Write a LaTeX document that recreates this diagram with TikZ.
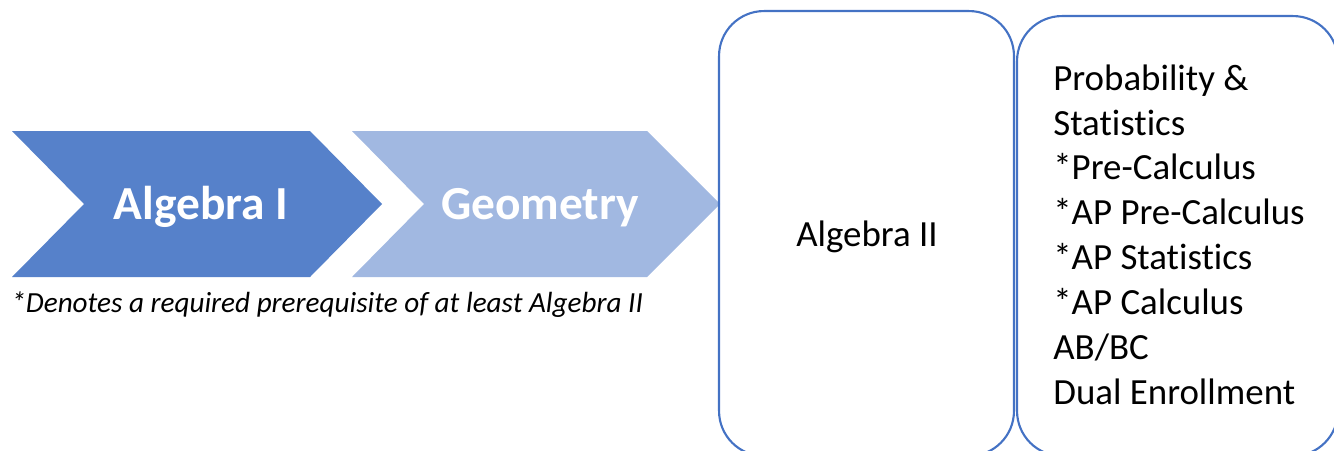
\documentclass[tikz,border=0pt]{standalone}
\usepackage{fontspec}
\setmainfont{Carlito}[Ligatures=NoCommon]

\definecolor{chevdark}{RGB}{86,129,202}
\definecolor{chevlight}{RGB}{161,184,225}
\definecolor{boxblue}{RGB}{68,114,196}

\begin{document}
\begin{tikzpicture}[
    x=0.02cm, y=-0.02cm,
    chevtext/.style={text=white, font=\fontsize{27}{32}\selectfont\bfseries, inner sep=0pt, anchor=base},
    coursebox/.style={rectangle, draw=boxblue, line width=1.2pt, rounded corners=0.9cm, inner sep=0pt},
    boxtext/.style={font=\fontsize{21}{25.5}\selectfont, inner sep=0pt},
    notetext/.style={font=\fontsize{16.6}{19}\selectfont\itshape, inner sep=0pt, anchor=base west}
]
\useasboundingbox (0,0) rectangle (1334,450);
\clip (0,0) rectangle (1334,450);

% Chevrons
\fill[chevdark] (12,131) -- (310,131) -- (382,204) -- (310,277) -- (12,277) -- (84,204) -- cycle;
\fill[chevlight] (352,131) -- (647,131) -- (720,204) -- (647,277) -- (352,277) -- (424,204) -- cycle;
\node (alg1) [chevtext] at (201,219) {Algebra I};
\node (geom) [chevtext] at (540,219) {Geometry};

% Note
\node (note) [notetext] at (11,312) {*Denotes a required prerequisite of at least Algebra II};

% Boxes
\node (alg2box) [coursebox, minimum width=5.9cm, minimum height=8.9cm] at (866.5,233.5) {};
\node (alg2) [boxtext, anchor=base] at (867,246) {Algebra II};
\node (nextbox) [coursebox, minimum width=6.42cm, minimum height=8.8cm] at (1177.5,236) {};
\node (courses) [boxtext, align=left, anchor=base west] at (1053,404) {Probability \&\\Statistics\\*Pre-Calculus\\*AP Pre-Calculus\\*AP Statistics\\*AP Calculus\\AB/BC\\Dual Enrollment};

\end{tikzpicture}
\end{document}
